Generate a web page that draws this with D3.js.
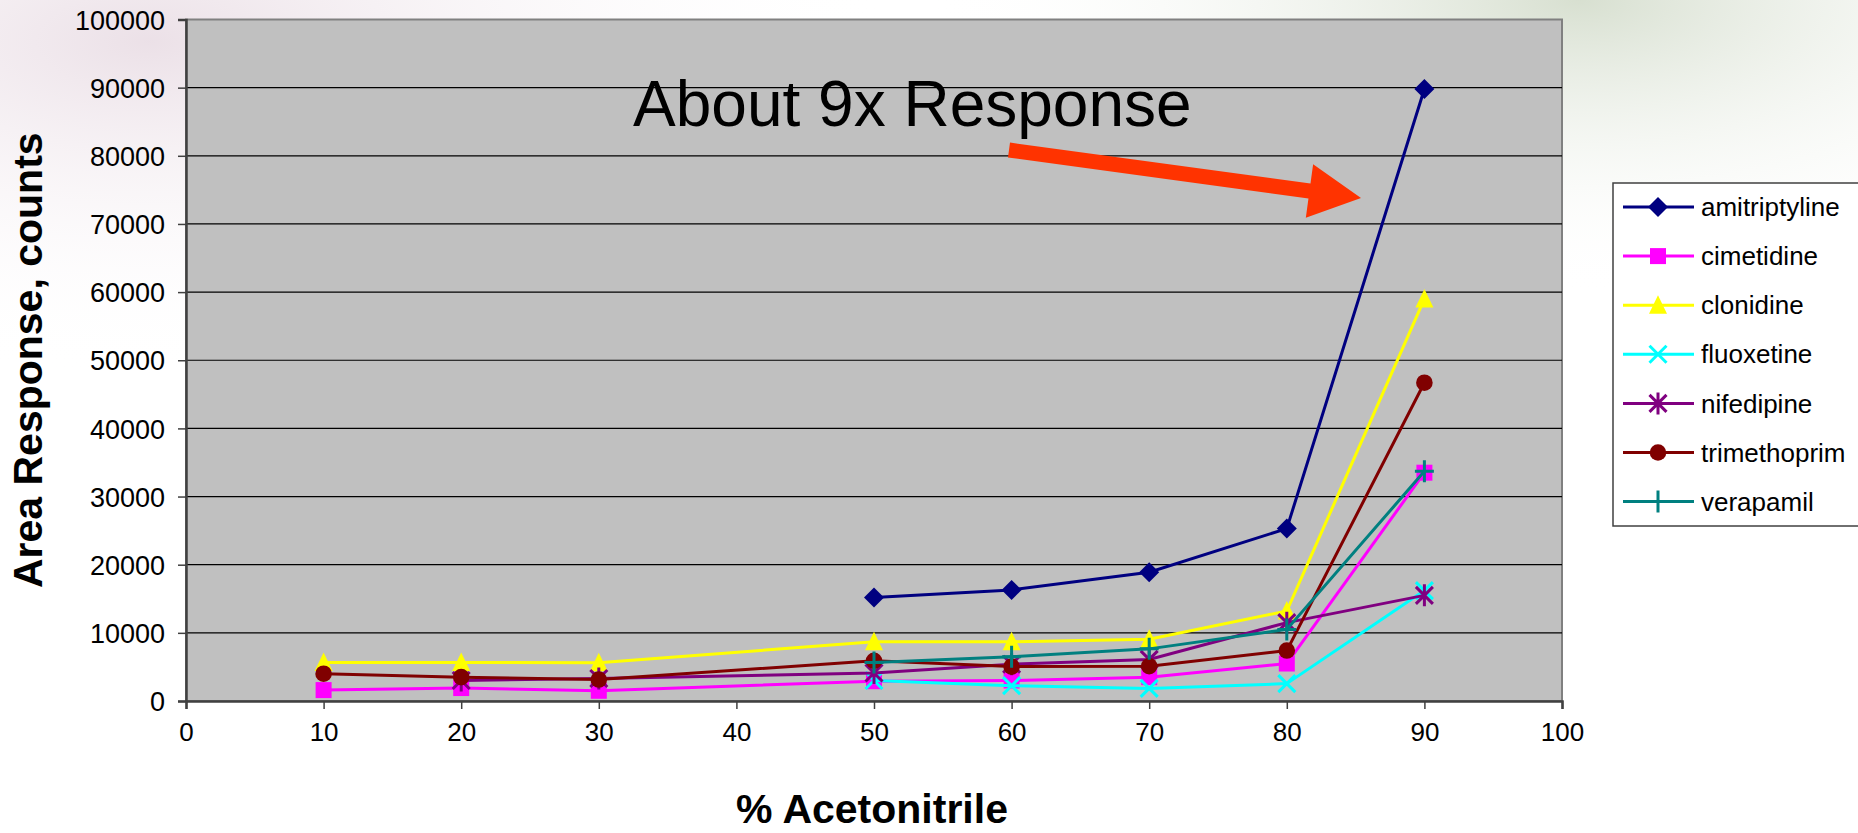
<!DOCTYPE html>
<html>
<head>
<meta charset="utf-8">
<script src="https://cdn.jsdelivr.net/npm/d3@7"></script>
<style>
  html, body { margin: 0; padding: 0; overflow: hidden; background: #ffffff; }
  svg { display: block; font-family: "Liberation Sans", Arial, sans-serif; }
</style>
</head>
<body>
<div id="chart"></div>
<script>
// percent acetonitrile (no 40% run)
var acetonitrile = [10, 20, 30, 50, 60, 70, 80, 90];

// area response per compound, null = not measured
var amitriptyline = [null, null, null, 15200, 16300, 18900, 25300, 89800];
var cimetidine    = [1600, 1900, 1500, 2900, 3000, 3500, 5500, 33500];
var clonidine     = [5650, 5650, 5600, 8700, 8700, 9050, 13200, 59000];
var fluoxetine    = [null, null, null, 3000, 2250, 1850, 2550, 16200];
var nifedipine    = [null, 3000, 3300, 4100, 5400, 6100, 11500, 15500];
var trimethoprim  = [4000, 3500, 3150, 5900, 5050, 5100, 7400, 46700];
var verapamil     = [null, null, null, 5650, 6500, 7650, 10500, 33700];

var seriesNames = ["amitriptyline", "cimetidine", "clonidine", "fluoxetine", "nifedipine", "trimethoprim", "verapamil"];
var seriesValues = [amitriptyline, cimetidine, clonidine, fluoxetine, nifedipine, trimethoprim, verapamil];
var seriesColors = ["#000080", "#ff00ff", "#ffff00", "#00ffff", "#800080", "#800000", "#008080"];
var seriesMarks  = ["diamond", "square", "triangle", "x", "star", "circle", "plus"];

var xTicks = [0, 10, 20, 30, 40, 50, 60, 70, 80, 90, 100];
var yTicks = [0, 10000, 20000, 30000, 40000, 50000, 60000, 70000, 80000, 90000, 100000];

var annotationText = "About 9x Response";
var xTitle = "% Acetonitrile";
var yTitle = "Area Response, counts";

var width = 1858, height = 833;
// plot area edges (window.top is taken, so no "top" here)
var plotL = 186, plotR = 1562, plotT = 19.5, plotB = 701;

var svg = d3.select("#chart").append("svg")
  .attr("width", width)
  .attr("height", height);

// faded slide background
var defs = svg.append("defs");
var g1 = defs.append("radialGradient").attr("id", "bgPink").attr("cx", "0.08").attr("cy", "0.05").attr("r", "0.4");
g1.append("stop").attr("offset", "0").attr("stop-color", "#e8dbe3").attr("stop-opacity", 0.85);
g1.append("stop").attr("offset", "1").attr("stop-color", "#ffffff").attr("stop-opacity", 0);
var g2 = defs.append("radialGradient").attr("id", "bgGreen").attr("cx", "0.85").attr("cy", "0.0").attr("r", "0.35");
g2.append("stop").attr("offset", "0").attr("stop-color", "#d3dccb").attr("stop-opacity", 0.9);
g2.append("stop").attr("offset", "1").attr("stop-color", "#ffffff").attr("stop-opacity", 0);

svg.append("rect").attr("width", width).attr("height", height).attr("fill", "#ffffff");
svg.append("rect").attr("width", width).attr("height", height).attr("fill", "url(#bgPink)");
svg.append("rect").attr("width", width).attr("height", height).attr("fill", "url(#bgGreen)");

var x = d3.scaleLinear().domain([0, 100]).range([plotL, plotR]);
var y = d3.scaleLinear().domain([0, 100000]).range([plotB, plotT]);

// plot area
svg.append("rect")
  .attr("x", plotL).attr("y", plotT)
  .attr("width", plotR - plotL).attr("height", plotB - plotT)
  .attr("fill", "#c0c0c0")
  .attr("stroke", "#808080")
  .attr("stroke-width", 2);

// gridlines
svg.append("g").selectAll("line").data(yTicks.slice(1, -1)).enter()
  .append("line")
  .attr("x1", plotL).attr("x2", plotR)
  .attr("y1", function(d) { return y(d); })
  .attr("y2", function(d) { return y(d); })
  .attr("stroke", "#000")
  .attr("stroke-width", 1.2);

// axes
var yAxis = svg.append("g")
  .attr("transform", "translate(" + plotL + ",0)")
  .call(d3.axisLeft(y).tickValues(yTicks).tickSize(8).tickPadding(13).tickFormat(d3.format("d")));
var xAxis = svg.append("g")
  .attr("transform", "translate(0," + plotB + ")")
  .call(d3.axisBottom(x).tickValues(xTicks).tickSize(8).tickPadding(14).tickFormat(d3.format("d")));

[xAxis, yAxis].forEach(function(a) {
  a.select(".domain").attr("stroke", "#404040").attr("stroke-width", 2.5);
  a.selectAll(".tick line").attr("stroke", "#404040").attr("stroke-width", 1.5);
  a.selectAll(".tick text")
    .attr("fill", "#000")
    .attr("font-size", "26px")
    .attr("font-family", "Liberation Sans, Arial, sans-serif");
});
yAxis.selectAll(".tick text").attr("font-size", "27px").attr("dy", "0.36em");

// axis titles
svg.append("text")
  .attr("transform", "translate(42," + ((plotT + plotB) / 2) + ") rotate(-90)")
  .attr("text-anchor", "middle")
  .attr("font-size", "41px")
  .attr("font-weight", "bold")
  .text(yTitle);

svg.append("text")
  .attr("x", 872).attr("y", 823)
  .attr("text-anchor", "middle")
  .attr("font-size", "41px")
  .attr("font-weight", "bold")
  .text(xTitle);

// marker shapes
function markPath(kind) {
  switch (kind) {
    case "diamond": return "M0,-10L10,0L0,10L-10,0Z";
    case "square": return "M-8,-8H8V8H-8Z";
    case "triangle": return "M0,-10L9,8.5L-9,8.5Z";
    case "circle": return d3.symbol().type(d3.symbolCircle).size(Math.PI * 8.3 * 8.3)();
    case "x": return "M-8.5,-8.5L8.5,8.5M8.5,-8.5L-8.5,8.5";
    case "star": return "M-8.5,-8.5L8.5,8.5M8.5,-8.5L-8.5,8.5M0,-11V11";
    case "plus": return "M-9.5,0H9.5M0,-11V11";
  }
}
function isStroked(kind) { return kind == "x" || kind == "star" || kind == "plus"; }

var line = d3.line()
  .defined(function(d) { return d[1] != null; })
  .x(function(d) { return x(d[0]); })
  .y(function(d) { return y(d[1]); });

seriesNames.forEach(function(name, i) {
  var pts = acetonitrile.map(function(a, j) { return [a, seriesValues[i][j]]; });
  var g = svg.append("g").attr("class", "series " + name);
  g.append("path")
    .datum(pts)
    .attr("d", line)
    .attr("fill", "none")
    .attr("stroke", seriesColors[i])
    .attr("stroke-width", 3);
  g.selectAll(".mark").data(pts.filter(function(d) { return d[1] != null; })).enter()
    .append("path")
    .attr("class", "mark")
    .attr("transform", function(d) { return "translate(" + x(d[0]) + "," + y(d[1]) + ")"; })
    .attr("d", markPath(seriesMarks[i]))
    .attr("fill", isStroked(seriesMarks[i]) ? "none" : seriesColors[i])
    .attr("stroke", isStroked(seriesMarks[i]) ? seriesColors[i] : "none")
    .attr("stroke-width", 3);
});

// annotation
svg.append("text")
  .attr("x", 633).attr("y", 126)
  .attr("font-size", "64px")
  .attr("fill", "#000")
  .text(annotationText);

// red arrow, drawn along the direction from tail to tip
var tail = [1009, 150], tip = [1361, 198];
var ang = Math.atan2(tip[1] - tail[1], tip[0] - tail[0]) * 180 / Math.PI;
var len = Math.hypot(tip[0] - tail[0], tip[1] - tail[1]);
svg.append("path")
  .attr("transform", "translate(" + tail[0] + "," + tail[1] + ") rotate(" + ang + ")")
  .attr("d", "M0,-7.5L" + (len - 52) + ",-7.5L" + (len - 52) + ",-27L" + len + ",0L" + (len - 52) + ",27L" + (len - 52) + ",7.5L0,7.5Z")
  .attr("fill", "#ff3300");

// legend
var legend = svg.append("g").attr("transform", "translate(1613,183)");
legend.append("rect")
  .attr("x", 0).attr("y", 0)
  .attr("width", 270).attr("height", 343)
  .attr("fill", "#ffffff")
  .attr("stroke", "#404040")
  .attr("stroke-width", 1.5);

var rows = legend.selectAll(".row").data(seriesNames).enter()
  .append("g")
  .attr("class", "row")
  .attr("transform", function(d, i) { return "translate(0," + (24 + i * 49.1) + ")"; });

rows.append("line")
  .attr("x1", 10).attr("x2", 81)
  .attr("stroke", function(d, i) { return seriesColors[i]; })
  .attr("stroke-width", 3);
rows.append("path")
  .attr("transform", "translate(45,0)")
  .attr("d", function(d, i) { return markPath(seriesMarks[i]); })
  .attr("fill", function(d, i) { return isStroked(seriesMarks[i]) ? "none" : seriesColors[i]; })
  .attr("stroke", function(d, i) { return isStroked(seriesMarks[i]) ? seriesColors[i] : "none"; })
  .attr("stroke-width", 3);
rows.append("text")
  .attr("x", 88).attr("dy", "0.35em")
  .attr("font-size", "26px")
  .attr("fill", "#000")
  .text(function(d) { return d; });
</script>
</body>
</html>
